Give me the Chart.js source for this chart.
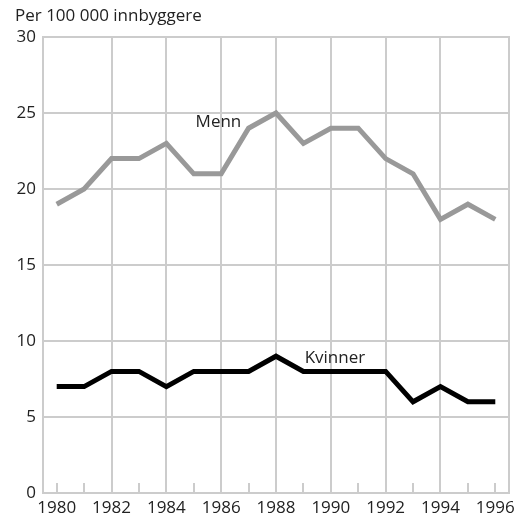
<!DOCTYPE html>
<html>
<head>
<meta charset="utf-8">
<script src="https://cdn.jsdelivr.net/npm/chart.js@4"></script>
<style>
  html, body { margin: 0; padding: 0; background: #fff; }
  #wrap { width: 525px; height: 520px; }
</style>
</head>
<body>
<div id="wrap"><canvas id="chart"></canvas></div>
<script>
const years = [1980, 1981, 1982, 1983, 1984, 1985, 1986, 1987, 1988, 1989, 1990, 1991, 1992, 1993, 1994, 1995, 1996];
const menn = [19, 20, 22, 22, 23, 21, 21, 24, 25, 23, 24, 24, 22, 21, 18, 19, 18];
const kvinner = [7, 7, 8, 8, 7, 8, 8, 8, 9, 8, 8, 8, 8, 6, 7, 6, 6];
const yTicks = [0, 5, 10, 15, 20, 25, 30];
const xLabelYears = [1980, 1982, 1984, 1986, 1988, 1990, 1992, 1994, 1996];
const unitTitle = 'Per 100 000 innbyggere';
const seriesLabels = [
    { text: 'Menn', x: 1985.9, y: 24.4 },
    { text: 'Kvinner', x: 1990.15, y: 8.85 }
];

const FONT = "'Open Sans', 'Noto Sans', sans-serif";
const GRID = '#cccccc';

// unit title, right border, small year ticks and the series labels
const extras = {
    id: 'extras',
    afterDatasetsDraw(chart) {
        const { ctx, chartArea, scales } = chart;
        ctx.save();
        ctx.strokeStyle = GRID;
        ctx.lineWidth = 2;
        ctx.beginPath();
        ctx.moveTo(chartArea.right, chartArea.top - 1);
        ctx.lineTo(chartArea.right, chartArea.bottom);
        years.forEach(yr => {
            const px = Math.round(scales.x.getPixelForValue(yr));
            ctx.moveTo(px, chartArea.bottom);
            ctx.lineTo(px, chartArea.bottom - 10);
        });
        ctx.stroke();

        ctx.fillStyle = '#222';
        ctx.font = '17px ' + FONT;
        ctx.textBaseline = 'middle';
        ctx.textAlign = 'left';
        ctx.fillText(unitTitle, 15, 16);
        ctx.textAlign = 'center';
        seriesLabels.forEach(l => {
            ctx.fillText(l.text, scales.x.getPixelForValue(l.x), scales.y.getPixelForValue(l.y));
        });
        ctx.restore();
    }
};

const ctx = document.getElementById('chart').getContext('2d');
new Chart(ctx, {
    type: 'line',
    data: {
        labels: years,
        datasets: [
            {
                label: 'Menn',
                data: years.map((yr, i) => ({ x: yr, y: menn[i] })),
                borderColor: '#999999',
                borderWidth: 5,
                pointRadius: 0,
                tension: 0,
                borderJoinStyle: 'miter'
            },
            {
                label: 'Kvinner',
                data: years.map((yr, i) => ({ x: yr, y: kvinner[i] })),
                borderColor: '#000000',
                borderWidth: 5,
                pointRadius: 0,
                tension: 0,
                borderJoinStyle: 'miter'
            }
        ]
    },
    options: {
        responsive: true,
        maintainAspectRatio: false,
        animation: false,
        layout: { padding: { left: 0, right: 16, top: 37, bottom: 0 } },
        plugins: {
            legend: { display: false },
            tooltip: { enabled: false },
            title: { display: false }
        },
        scales: {
            x: {
                type: 'linear',
                min: 1979.5,
                max: 1996.5,
                afterBuildTicks: scale => {
                    scale.ticks = years.map(v => ({ value: v }));
                },
                afterFit: scale => { scale.height = 27; },
                grid: {
                    drawTicks: false,
                    lineWidth: 2,
                    color: c => (c.tick && c.tick.value % 2 === 0 && c.tick.value > 1980 && c.tick.value < 1996) ? GRID : 'rgba(0,0,0,0)'
                },
                border: { display: true, color: GRID, width: 2 },
                ticks: {
                    autoSkip: false,
                    maxRotation: 0,
                    padding: 5,
                    color: '#222',
                    font: { family: FONT, size: 17 },
                    callback: v => xLabelYears.includes(v) ? String(v) : ''
                }
            },
            y: {
                min: 0,
                max: 30,
                afterBuildTicks: scale => {
                    scale.ticks = yTicks.map(v => ({ value: v }));
                },
                afterFit: scale => { scale.width = 43; },
                grid: { drawTicks: false, color: GRID, lineWidth: 2 },
                border: { display: true, color: GRID, width: 2 },
                ticks: {
                    padding: 7,
                    color: '#222',
                    font: { family: FONT, size: 17 }
                }
            }
        }
    },
    plugins: [extras]
});
</script>
</body>
</html>
